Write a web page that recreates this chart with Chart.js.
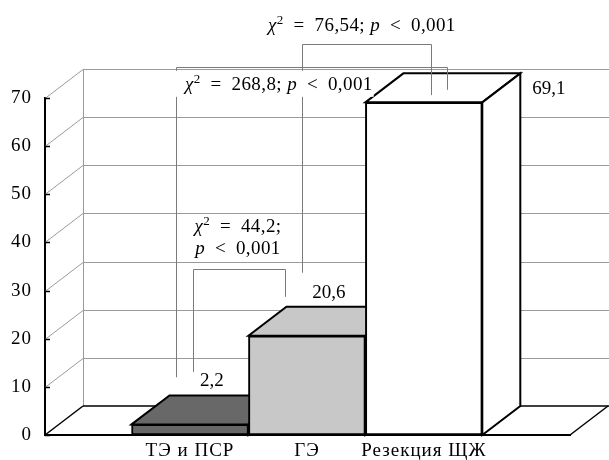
<!DOCTYPE html>
<html>
<head>
<meta charset="utf-8">
<script src="https://cdn.jsdelivr.net/npm/chart.js@4.4.0/dist/chart.umd.min.js"></script>
<style>
  html, body { margin: 0; padding: 0; background: #fff; }
  #wrap { width: 609px; height: 460px; }
</style>
</head>
<body>
<div id="wrap"><canvas id="chart-bars" width="609" height="460"></canvas></div>
<script>
// --- data ---
const categories = ['ТЭ и ПСР', 'ГЭ', 'Резекция ЩЖ'];
const values = [2.2, 20.6, 69.1];
const valueLabels = ['2,2', '20,6', '69,1'];
const barColors = ['#686868', '#c8c8c8', '#ffffff'];
const yTicks = [0, 10, 20, 30, 40, 50, 60, 70];
const statValues = ['44,2', '268,8', '76,54'];
const pLabel = '0,001';

// --- look ---
const FAMILY = '"Liberation Serif", "DejaVu Serif", serif';
const FS = 19;
const DX = 38, DY = 29;  // depth of the 3d box
const WIDE = '\u2002';   // en space around = and <

// brackets, in x units (category index) and y values
const bracketLayout = [
  { x1: 0.03, x2: 0.81, top: 34.5, end1: 13.1, end2: 28.7, tx: 0.41, ty: [42.2, 37.6], split: true },
  { x1: -0.12, x2: 2.20, top: 76.4, end1: 12.0, end2: 71.7, tx: 0.76, ty: [71.7], boxed: true },
  { x1: 0.96, x2: 2.06, top: 81.2, end1: 33.7, end2: 70.6, tx: 1.47, ty: [83.9] }
];

function line(ctx, x1, y1, x2, y2) {
  ctx.beginPath();
  ctx.moveTo(x1, y1);
  ctx.lineTo(x2, y2);
  ctx.stroke();
}

function fontFor(style) {
  if (style === 'i') return `italic ${FS}px ${FAMILY}`;
  if (style === 's') return `${Math.round(FS * 0.68)}px ${FAMILY}`;
  return `${FS}px ${FAMILY}`;
}

function richWidth(ctx, segs) {
  let w = 0;
  segs.forEach(([t, s]) => { ctx.font = fontFor(s); w += ctx.measureText(t).width; });
  return w;
}

function drawRich(ctx, segs, cx, baseline) {
  const w = richWidth(ctx, segs);
  let x = cx - w / 2;
  segs.forEach(([t, s]) => {
    ctx.font = fontFor(s);
    ctx.fillText(t, x, s === 's' ? baseline - FS * 0.38 : baseline);
    x += ctx.measureText(t).width;
  });
}

const box3d = {
  id: 'box3d',
  beforeDraw(chart) {
    // axis labels are set a little wider, like the original typesetting
    chart.ctx.letterSpacing = '1px';
  },
  beforeDatasetsDraw(chart) {
    const { ctx, chartArea: a, scales: { y } } = chart;
    ctx.letterSpacing = '0px';
    const y0 = y.getPixelForValue(0);
    const yTop = y.getPixelForValue(yTicks[yTicks.length - 1]);
    ctx.save();

    // back wall + left wall grid
    ctx.strokeStyle = '#9a9a9a';
    ctx.lineWidth = 1;
    yTicks.slice(1).forEach(v => {
      const py = Math.round(y.getPixelForValue(v)) + 0.5;
      line(ctx, a.left, py, a.left + DX, py - DY);
      line(ctx, a.left + DX, py - DY, chart.width, py - DY);
    });
    line(ctx, a.left + DX + 0.5, y0 - DY, a.left + DX + 0.5, yTop - DY);

    // floor
    ctx.strokeStyle = '#000';
    ctx.lineWidth = 1.5;
    line(ctx, a.left, y0, a.left + DX, y0 - DY);
    line(ctx, a.left + DX, y0 - DY, chart.width, y0 - DY);
    line(ctx, a.right, y0, a.right + DX, y0 - DY);

    // top and side faces of the bars
    const meta = chart.getDatasetMeta(0);
    ctx.lineWidth = 2;
    meta.data.forEach((bar, i) => {
      const { x, y: top, base, width } = bar.getProps(['x', 'y', 'base', 'width'], true);
      const l = x - width / 2, r = x + width / 2;
      ctx.fillStyle = barColors[i];
      ctx.beginPath();
      ctx.moveTo(l, top);
      ctx.lineTo(l + DX, top - DY);
      ctx.lineTo(r + DX, top - DY);
      ctx.lineTo(r, top);
      ctx.closePath();
      ctx.fill();
      ctx.stroke();
      ctx.beginPath();
      ctx.moveTo(r, top);
      ctx.lineTo(r + DX, top - DY);
      ctx.lineTo(r + DX, base - DY);
      ctx.lineTo(r, base);
      ctx.closePath();
      ctx.fill();
      ctx.stroke();
    });
    ctx.restore();
  },
  afterDatasetsDraw(chart) {
    const { ctx, chartArea: a, scales: { x: xs, y } } = chart;
    ctx.save();

    // inner tick marks on the value axis
    ctx.strokeStyle = '#000';
    ctx.lineWidth = 1.5;
    yTicks.forEach(v => {
      const py = Math.round(y.getPixelForValue(v)) + 0.5;
      line(ctx, a.left, py, a.left + 5, py);
    });

    // value labels
    ctx.fillStyle = '#000';
    ctx.font = `${FS}px ${FAMILY}`;
    ctx.textBaseline = 'alphabetic';
    const meta = chart.getDatasetMeta(0);
    meta.data.forEach((bar, i) => {
      const { x, y: top, width } = bar.getProps(['x', 'y', 'width'], true);
      const l = x - width / 2, r = x + width / 2;
      if (i === values.length - 1) {
        ctx.textAlign = 'left';
        ctx.fillText(valueLabels[i], r + DX + 12, top - 8);
      } else {
        ctx.textAlign = 'center';
        ctx.fillText(valueLabels[i], (l + r + DX) / 2 + 3, top - DY - 9);
      }
    });

    // significance brackets
    ctx.strokeStyle = '#7a7a7a';
    ctx.lineWidth = 1;
    bracketLayout.forEach(b => {
      const x1 = Math.round(xs.getPixelForValue(b.x1)) + 0.5;
      const x2 = Math.round(xs.getPixelForValue(b.x2)) + 0.5;
      const yt = Math.round(y.getPixelForValue(b.top)) + 0.5;
      ctx.beginPath();
      ctx.moveTo(x1, y.getPixelForValue(b.end1));
      ctx.lineTo(x1, yt);
      ctx.lineTo(x2, yt);
      ctx.lineTo(x2, y.getPixelForValue(b.end2));
      ctx.stroke();
    });

    ctx.textAlign = 'left';
    ctx.letterSpacing = '0.4px';
    bracketLayout.forEach((b, i) => {
      const chi = [['χ', 'i'], ['2', 's'], [WIDE + '=' + WIDE + statValues[i] + ';', '']];
      const p = [['p', 'i'], [WIDE + '<' + WIDE + pLabel, '']];
      const cx = xs.getPixelForValue(b.tx);
      if (b.split) {
        drawRich(ctx, chi, cx, y.getPixelForValue(b.ty[0]));
        drawRich(ctx, p, cx, y.getPixelForValue(b.ty[1]));
      } else {
        const segs = chi.concat([[' ', '']], p);
        const by = y.getPixelForValue(b.ty[0]);
        if (b.boxed) {
          const w = richWidth(ctx, segs);
          ctx.fillStyle = '#fff';
          ctx.fillRect(cx - w / 2 - 9, by - 19, w + 10, 26);
          ctx.fillStyle = '#000';
        }
        drawRich(ctx, segs, cx, by);
      }
    });
    ctx.restore();
  }
};

const tickFont = { family: FAMILY, size: FS };

new Chart(document.getElementById('chart-bars').getContext('2d'), {
  type: 'bar',
  data: {
    datasets: [{
      data: categories.map((c, i) => ({ x: i, y: values[i] })),
      backgroundColor: barColors,
      borderColor: '#000',
      borderWidth: 2,
      borderSkipped: false,
      categoryPercentage: 1,
      barPercentage: 1
    }]
  },
  options: {
    responsive: false,
    animation: false,
    layout: { padding: { top: 98, right: 39, left: 0, bottom: 0 } },
    plugins: { legend: { display: false }, tooltip: { enabled: false } },
    scales: {
      x: {
        type: 'linear',
        min: -1.24,
        max: 3.25,
        offset: false,
        afterBuildTicks: s => { s.ticks = categories.map((c, i) => ({ value: i })); },
        afterFit: s => { s.height = 25; },
        ticks: {
          callback: v => categories[v],
          color: '#000',
          font: tickFont,
          padding: 5,
          autoSkip: false,
          maxRotation: 0
        },
        grid: { display: false, drawTicks: false },
        border: { display: true, color: '#000', width: 2 }
      },
      y: {
        min: 0,
        max: 70,
        afterBuildTicks: s => { s.ticks = yTicks.map(v => ({ value: v })); },
        afterFit: s => { s.width = 45; },
        ticks: { color: '#000', font: tickFont, padding: 13 },
        grid: { display: false, drawTicks: false },
        border: { display: true, color: '#000', width: 2 }
      }
    }
  },
  plugins: [box3d]
});
</script>
</body>
</html>
